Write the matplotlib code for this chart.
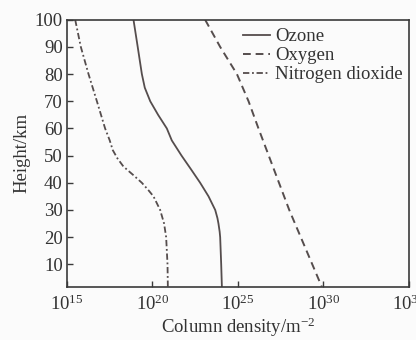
import matplotlib
matplotlib.use("Agg")
import matplotlib.pyplot as plt
import numpy as np
from matplotlib.ticker import LogFormatterMathtext, FixedLocator, NullLocator

plt.rcParams['font.family'] = ['Liberation Serif', 'DejaVu Serif']
plt.rcParams['mathtext.fontset'] = 'custom'
plt.rcParams['mathtext.rm'] = 'Liberation Serif'
plt.rcParams['mathtext.it'] = 'Liberation Serif:italic'

# Column density profiles (log10 of m^-2) versus height (km)
ozone_height = [100, 90.7, 80, 75, 70, 65, 60, 55.6, 50, 45, 40, 35, 30, 27, 25, 22, 20, 10, 1.8]
ozone_log = [18.89, 19.12, 19.38, 19.55, 19.87, 20.33, 20.84, 21.13, 21.70, 22.25,
             22.79, 23.28, 23.67, 23.80, 23.86, 23.93, 23.96, 24.02, 24.06]

oxygen_height = [100, 90, 80, 70, 60, 30, 1.8]
oxygen_log = [23.08, 23.96, 24.94, 25.62, 26.20, 28.00, 29.90]

no2_height = [100, 90, 80, 70, 60, 55.6, 52, 49, 46, 43, 40, 37, 35, 30, 25, 20, 10, 1.8]
no2_log = [15.48, 15.81, 16.26, 16.75, 17.23, 17.50, 17.68, 17.95, 18.30, 18.85,
           19.38, 19.80, 20.06, 20.45, 20.68, 20.80, 20.88, 20.90]

x_ticks = [1e15, 1e20, 1e25, 1e30, 1e35]
y_ticks = [10, 20, 30, 40, 50, 60, 70, 80, 90, 100]

line_color = '#554d4d'
axis_color = '#3a3a3a'
text_color = '#333333'

fig = plt.figure(figsize=(4.16, 3.40), dpi=100, facecolor='#fbfbfb')
ax = fig.add_axes([0.161, 0.157, 0.822, 0.785])
ax.set_facecolor('#fbfbfb')

ax.plot(10 ** np.array(ozone_log), ozone_height, color=line_color, lw=1.3,
        linestyle='-', label='Ozone')
ax.plot(10 ** np.array(oxygen_log), oxygen_height, color=line_color, lw=1.4,
        linestyle=(0, (4, 2.5)), label='Oxygen')
ax.plot(10 ** np.array(no2_log), no2_height, color=line_color, lw=1.3,
        linestyle=(0, (3.5, 1.5, 1, 1.5)), label='Nitrogen dioxide')

ax.set_xscale('log')
ax.set_xlim(1e15, 1e35)
ax.set_ylim(1.8, 100)
ax.xaxis.set_major_locator(FixedLocator(x_ticks))
ax.xaxis.set_minor_locator(NullLocator())
ax.xaxis.set_major_formatter(LogFormatterMathtext())
ax.set_yticks(y_ticks)

for s in ax.spines.values():
    s.set_color(axis_color)
    s.set_linewidth(1.2)

ax.tick_params(axis='both', direction='in', length=4, width=1.0, color=axis_color,
               labelsize=13.5, labelcolor=text_color, top=False, right=False)
ax.tick_params(axis='x', pad=6)
ax.tick_params(axis='y', pad=3)

ax.set_xlabel('Column density/m$^{-2}$', fontsize=13.5, color=text_color, labelpad=1)
ax.set_ylabel('Height/km', fontsize=13.5, color=text_color, labelpad=3)

leg = ax.legend(loc='upper right', bbox_to_anchor=(1.015, 1.01), frameon=False,
                fontsize=13.5, handlelength=1.4, handletextpad=0.3,
                labelspacing=0.1, borderaxespad=0.2)
for t in leg.get_texts():
    t.set_color(text_color)

fig.savefig('out.png', dpi=100, facecolor=fig.get_facecolor())
